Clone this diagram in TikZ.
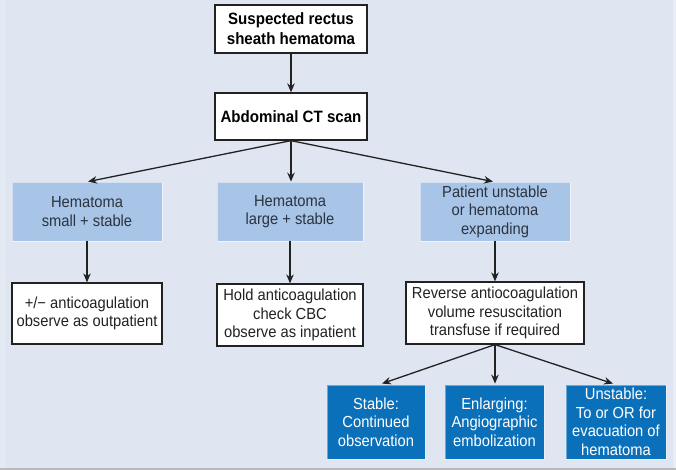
\documentclass[tikz,border=0pt]{standalone}
\usepackage{fontspec}
\setmainfont{Liberation Sans}[FakeStretch=0.92]
\usetikzlibrary{arrows.meta,calc}
\definecolor{bg}{HTML}{DFE6F2}
\definecolor{lightbox}{HTML}{A8C4E7}
\definecolor{darkbox}{HTML}{0B70BA}
\definecolor{ink}{HTML}{222222}
\definecolor{greytext}{HTML}{2B3440}
\begin{document}
\begin{tikzpicture}[x=1pt,y=-1pt,
  txt/.style={font=\fontsize{16}{18.5}\selectfont, align=center, inner sep=0pt},
  topbox/.style={draw=ink, line width=1.3pt, fill=white, align=center, inner sep=0pt,
     font=\fontsize{16.4}{20}\selectfont\bfseries, minimum width=152pt},
  lbox/.style={txt, fill=lightbox, draw=white, draw opacity=0.5, line width=0.8pt, text=greytext,
     minimum width=150pt, minimum height=59pt},
  wbox/.style={txt, fill=white, draw=ink, line width=1.2pt, text=ink, minimum height=62pt},
  dbox/.style={txt, fill=darkbox, draw=white, draw opacity=0.4, line width=0.8pt, text=white,
     minimum height=74pt},
  arr/.style={draw=ink, line width=1.3pt, -{Stealth[length=9pt,width=7.5pt]}}
]
\fill[bg] (0,0) rectangle (676,470);
\fill[bg!85!white] (0,0) rectangle (6,468);
\fill[bg!70!white] (673,0) rectangle (676,468);
\fill[gray!55] (0,468) rectangle (676,470);
\useasboundingbox (0,0) rectangle (676,470);

\node[topbox, minimum height=48pt] (top) at (291,29) {Suspected rectus\\sheath hematoma};
\node[topbox, minimum height=47pt] (ct) at (291,116.5) {Abdominal CT scan};

\node[lbox] (b1) at (87,211.5) {Hematoma\\small + stable};
\node[lbox, minimum width=146pt] (b2) at (290,211.5) {Hematoma\\large + stable};
\node[lbox] (b3) at (495,211.5) {Patient unstable\\or hematoma\\expanding};

\node[wbox, minimum width=150pt, minimum height=61pt] (w1) at (87,313.5) {+/\textminus{} anticoagulation\\observe as outpatient};
\node[wbox, minimum width=146pt] (w2) at (290,315) {Hold anticoagulation\\check CBC\\observe as inpatient};
\node[wbox, minimum width=178pt] (w3) at (495,313) {Reverse antiocoagulation\\volume resuscitation\\transfuse if required};

\node[dbox, minimum width=98pt] (d1) at (376,422) {Stable:\\Continued\\observation};
\node[dbox, minimum width=99pt] (d2) at (494.5,422) {Enlarging:\\Angiographic\\embolization};
\node[dbox, minimum width=100pt] (d3) at (616,422) {Unstable:\\To or OR for\\evacuation of\\hematoma};

\draw[arr] (top) -- (ct);
\draw[arr] (ct.south) -- ([xshift=1pt]b1.north);
\draw[arr] (ct.south) -- (ct.south |- b2.north);
\draw[arr] (ct.south) -- ([xshift=-2pt]b3.north);
\draw[arr] (b1) -- (w1);
\draw[arr] (b2) -- (w2);
\draw[arr] (b3) -- (w3);
\draw[arr] (w3.south) -- ([xshift=6pt,yshift=1pt]d1.north);
\draw[arr] (w3.south) -- ([yshift=1pt]w3.south |- d2.north);
\draw[arr] (w3.south) -- ([xshift=-3pt,yshift=1pt]d3.north);
\end{tikzpicture}
\end{document}
